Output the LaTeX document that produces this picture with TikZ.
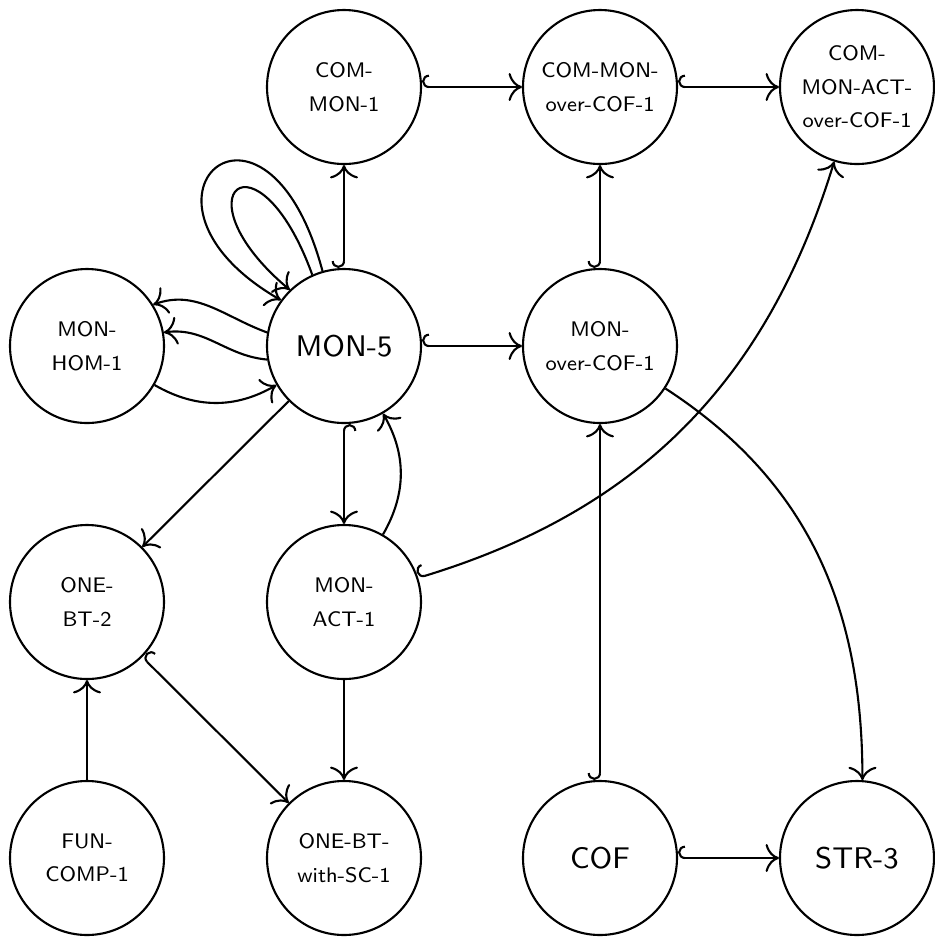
\documentclass[tikz,border=0pt]{standalone}
\usetikzlibrary{arrows.meta}
\begin{document}
\begin{tikzpicture}[
  st/.style={circle, draw, line width=0.6pt, minimum size=1.54cm, inner sep=0pt, align=center, font=\sffamily\fontsize{6}{9.5}\selectfont},
  big/.style={font=\sffamily\fontsize{8.5}{10}\selectfont},
  ed/.style={line width=0.6pt, -{To[scale=1.3]}},
  hk/.style={line width=0.6pt, {Hooks[right,scale=1.3]}-{To[scale=1.3]}},
]
\useasboundingbox (0,0) rectangle (9.35,-9.37);
\node[st] (cm1) at (3.44,-0.87) {COM-\\MON-1};
\node[st] (cmo) at (6.00,-0.87) {COM-MON-\\over-COF-1};
\node[st] (cma) at (8.57,-0.87) {COM-\\MON-ACT-\\over-COF-1};
\node[st] (mh) at (0.87,-3.46) {MON-\\HOM-1};
\node[st,big] (m5) at (3.44,-3.46) {MON-5};
\node[st] (mo) at (6.00,-3.46) {MON-\\over-COF-1};
\node[st] (ob2) at (0.87,-6.02) {ONE-\\BT-2};
\node[st] (ma) at (3.44,-6.02) {MON-\\ACT-1};
\node[st] (fc) at (0.87,-8.58) {FUN-\\COMP-1};
\node[st] (obs) at (3.44,-8.58) {ONE-BT-\\with-SC-1};
\node[st,big] (cof) at (6.00,-8.58) {COF};
\node[st,big] (str) at (8.57,-8.58) {STR-3};

\draw[hk] (m5) -- (cm1);
\draw[hk] (cm1) -- (cmo);
\draw[hk] (cmo) -- (cma);
\draw[hk] (mo) -- (cmo);
\draw[hk] (m5) -- (mo);
\draw[ed] (m5.106) .. controls +(105:2.2) and +(150:2.0) .. (m5.144);
\draw[ed] (m5.114) .. controls +(110:1.6) and +(140:1.5) .. (m5.134);
\draw[ed] (m5.170) to[out=160,in=20] (mh.32);
\draw[ed] (m5.190) to[out=175,in=8] (mh.10);
\draw[ed] (mh.-30) to[out=-30,in=210] (m5.210);
\draw[ed] (m5) -- (ob2);
\draw[hk] (m5) -- (ma);
\draw[ed] (ma.60) to[bend right=30] (m5.-60);
\draw[hk] (ma.18) to[out=17,in=253] (cma.253);
\draw[ed] (ma) -- (obs);
\draw[hk] (ob2) -- (obs);
\draw[ed] (fc) -- (ob2);
\draw[hk] (cof) -- (mo);
\draw[hk] (cof) -- (str);
\draw[ed] (mo.-33) to[out=-33,in=90] (str.86);
\end{tikzpicture}
\end{document}
